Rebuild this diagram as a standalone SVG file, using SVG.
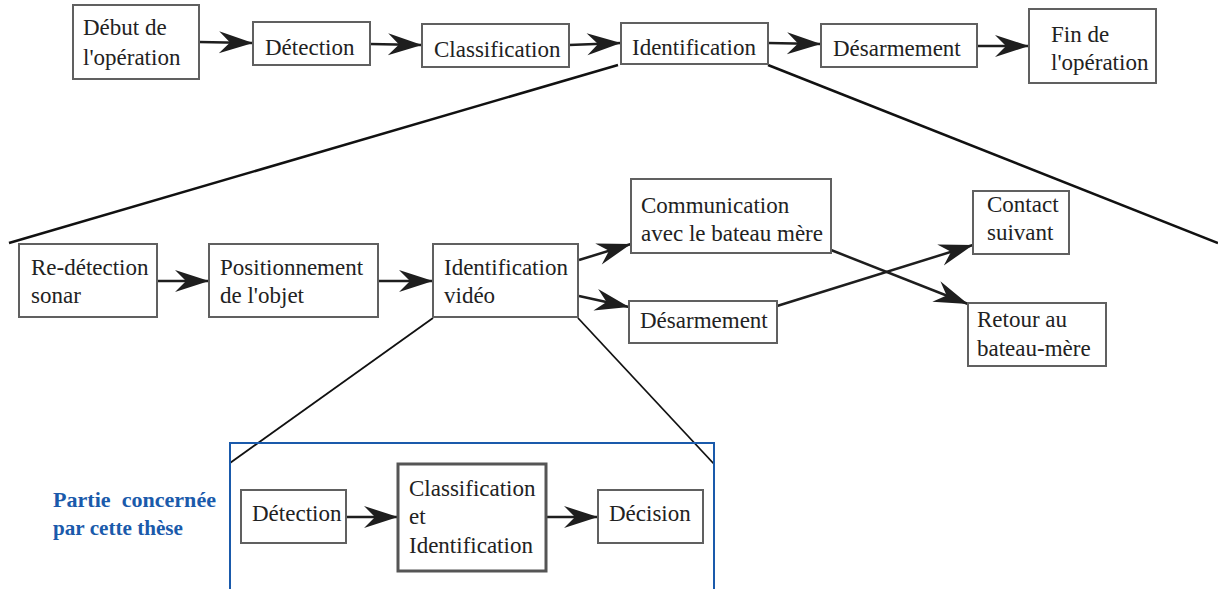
<svg xmlns="http://www.w3.org/2000/svg" width="1218" height="589" viewBox="0 0 1218 589" font-family="Times New Roman, Liberation Serif, Tinos, serif">
<style>
.box{fill:#fff;stroke:#606060;stroke-width:2}
.boxb{fill:#fff;stroke:#555;stroke-width:3}
.t{font-size:23px;fill:#222}
.c{fill:none;stroke:#1e1e1e;stroke-width:2.5}
.z{fill:none;stroke:#111;stroke-width:2.5}
.zt{fill:none;stroke:#111;stroke-width:1.8}
.blue{fill:none;stroke:#1a5aab;stroke-width:2}
.bt{font-weight:bold;font-size:21px;fill:#1a5aab;white-space:pre}
</style>
<defs>
<marker id="ah" markerUnits="userSpaceOnUse" viewBox="-35 -12 36 24" refX="0" refY="0" markerWidth="36" markerHeight="24" orient="auto">
<path d="M0,0 L-34,-11 L-23,0 L-34,11 Z" fill="#1e1e1e"/>
</marker>
</defs>
<g id="zoom-lines">
<line class="z" x1="618" y1="65" x2="9" y2="243"/>
<line class="z" x1="768" y1="65" x2="1218" y2="243"/>
<line class="zt" x1="433" y1="318" x2="230" y2="463"/>
<line class="zt" x1="578" y1="318" x2="714" y2="464"/>
<path class="blue" d="M230,592 V443 H714 V592"/>
</g>
<g id="connectors">
<line class="c" x1="199" y1="42" x2="253" y2="43" marker-end="url(#ah)"/>
<line class="c" x1="370" y1="44" x2="422" y2="45" marker-end="url(#ah)"/>
<line class="c" x1="569" y1="45" x2="621" y2="43" marker-end="url(#ah)"/>
<line class="c" x1="768" y1="43" x2="821" y2="44" marker-end="url(#ah)"/>
<line class="c" x1="977" y1="46" x2="1029" y2="46" marker-end="url(#ah)"/>
<line class="c" x1="157" y1="281" x2="209" y2="281" marker-end="url(#ah)"/>
<line class="c" x1="378" y1="281" x2="433" y2="281" marker-end="url(#ah)"/>
<line class="c" x1="579" y1="260" x2="631" y2="244" marker-end="url(#ah)"/>
<line class="c" x1="579" y1="296" x2="629" y2="307" marker-end="url(#ah)"/>
<line class="c" x1="777" y1="306" x2="973" y2="245" marker-end="url(#ah)"/>
<line class="c" x1="831" y1="250" x2="968" y2="304" marker-end="url(#ah)"/>
<line class="c" x1="346" y1="517" x2="398" y2="517" marker-end="url(#ah)"/>
<line class="c" x1="546" y1="517" x2="598" y2="517" marker-end="url(#ah)"/>
</g>
<g id="n-debut"><rect class="box" x="73" y="5" width="126" height="74"/><text class="t" x="83" y="35">Début de</text><text class="t" x="83" y="65">l'opération</text></g>
<g id="n-detection"><rect class="box" x="253" y="22" width="117" height="43"/><text class="t" x="265" y="55">Détection</text></g>
<g id="n-classification"><rect class="box" x="422" y="24" width="147" height="43"/><text class="t" x="434" y="57">Classification</text></g>
<g id="n-identification"><rect class="box" x="621" y="23" width="147" height="41"/><text class="t" x="632" y="55">Identification</text></g>
<g id="n-desarmement"><rect class="box" x="821" y="24" width="156" height="43"/><text class="t" x="833" y="56">Désarmement</text></g>
<g id="n-fin"><rect class="box" x="1029" y="9" width="127" height="74"/><text class="t" x="1051" y="42">Fin de</text><text class="t" x="1051" y="70">l'opération</text></g>
<g id="n-redetection"><rect class="box" x="19" y="244" width="138" height="73"/><text class="t" x="31" y="275">Re-détection</text><text class="t" x="31" y="303">sonar</text></g>
<g id="n-positionnement"><rect class="box" x="209" y="244" width="169" height="73"/><text class="t" x="220" y="275">Positionnement</text><text class="t" x="220" y="303">de l'objet</text></g>
<g id="n-idvideo"><rect class="box" x="433" y="244" width="145" height="73"/><text class="t" x="444" y="275">Identification</text><text class="t" x="444" y="303">vidéo</text></g>
<g id="n-communication"><rect class="box" x="631" y="179" width="200" height="74"/><text class="t" x="641" y="213">Communication</text><text class="t" x="641" y="241">avec le bateau mère</text></g>
<g id="n-desarmement2"><rect class="box" x="629" y="301" width="148" height="42"/><text class="t" x="640" y="328">Désarmement</text></g>
<g id="n-contact"><rect class="box" x="973" y="191" width="96" height="63"/><text class="t" x="987" y="212">Contact</text><text class="t" x="987" y="240">suivant</text></g>
<g id="n-retour"><rect class="box" x="968" y="303" width="138" height="63"/><text class="t" x="977" y="327">Retour au</text><text class="t" x="977" y="356">bateau-mère</text></g>
<g id="n-detection3"><rect class="box" x="241" y="490" width="105" height="53"/><text class="t" x="252" y="521">Détection</text></g>
<g id="n-classid"><rect class="boxb" x="398" y="464" width="148" height="107"/><text class="t" x="409" y="496">Classification</text><text class="t" x="409" y="524">et</text><text class="t" x="409" y="553">Identification</text></g>
<g id="n-decision"><rect class="box" x="598" y="490" width="105" height="53"/><text class="t" x="609" y="521">Décision</text></g>
<g id="label-partie"><text class="bt" x="53" y="507" textLength="163" lengthAdjust="spacingAndGlyphs">Partie  concernée</text><text class="bt" x="53" y="535" textLength="130" lengthAdjust="spacingAndGlyphs">par cette thèse</text></g>
</svg>
